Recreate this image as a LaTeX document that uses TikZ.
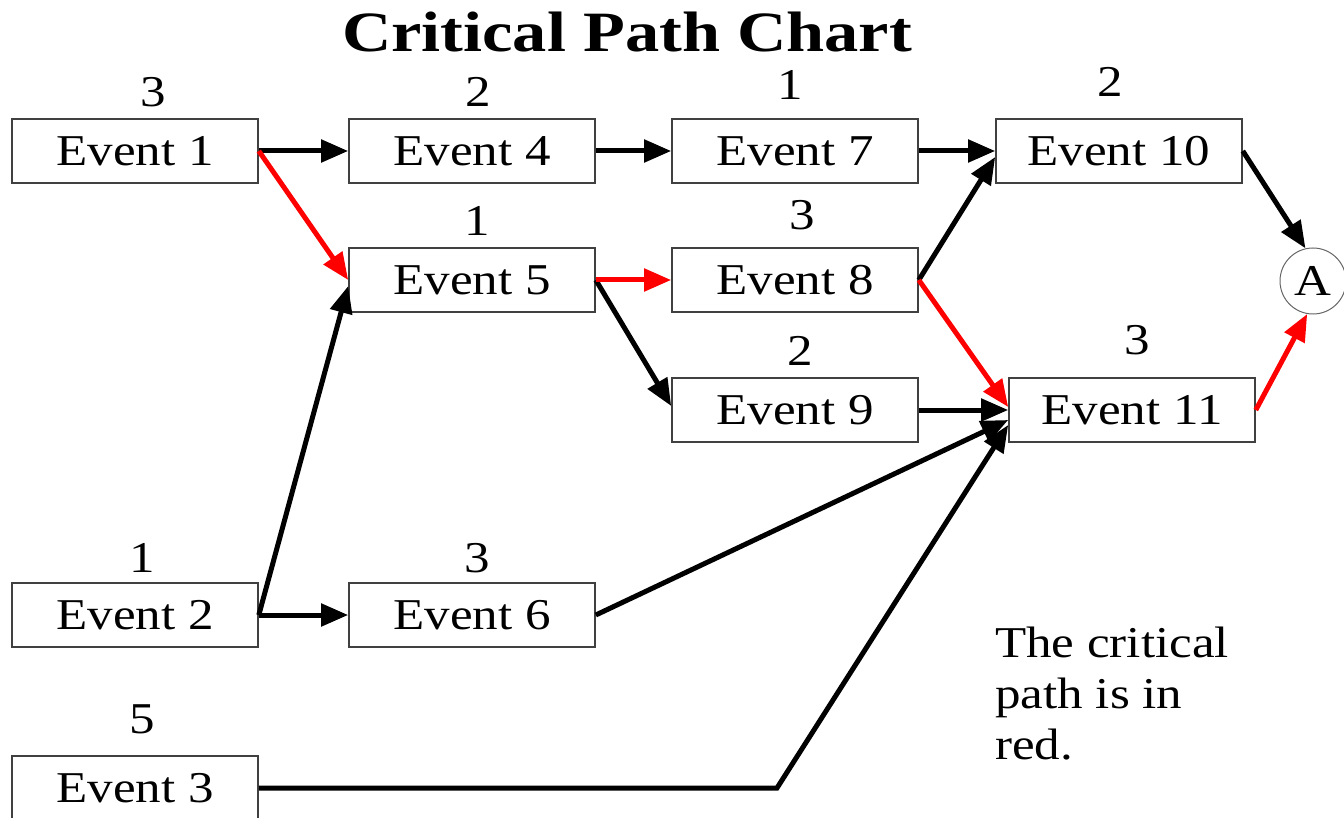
\documentclass[tikz,border=0pt]{standalone}
\usepackage{fontspec}
\setmainfont{Liberation Serif}[FakeStretch=1.16]
\newfontfamily\titlefont{Liberation Serif}[FakeStretch=1.2]
\usetikzlibrary{arrows.meta,calc}

\begin{document}
\begin{tikzpicture}[x=1pt,y=-1pt,
  every node/.style={font=\fontsize{44}{51}\selectfont},
  event/.style={draw=black!75, line width=1.6pt, minimum width=246pt,
                minimum height=64pt, inner sep=0pt, fill=white},
  dur/.style={anchor=base, inner sep=0pt},
  link/.style={line width=5pt, -{Triangle[length=27pt,width=22pt]}},
  crit/.style={link, draw=red, fill=red},
]
\useasboundingbox (0,0) rectangle (1344,818);
\clip (0,0) rectangle (1344,818);

% title
\node[font=\titlefont\bfseries\fontsize{57}{60}\selectfont, anchor=base, inner sep=0pt]
  (title) at (627,52) {Critical Path Chart};

% events
\node[event] (E1)  at (135,151)  {Event 1};
\node[event] (E4)  at (472,151)  {Event 4};
\node[event] (E7)  at (795,151)  {Event 7};
\node[event] (E10) at (1119,151) {Event 10};
\node[event] (E5)  at (472,280)  {Event 5};
\node[event] (E8)  at (795,280)  {Event 8};
\node[event] (E9)  at (795,410)  {Event 9};
\node[event] (E11) at (1132,410) {Event 11};
\node[event] (E2)  at (135,615)  {Event 2};
\node[event] (E6)  at (472,615)  {Event 6};
\node[event] (E3)  at (135,788)  {Event 3};

% durations
\node[dur] (d1)  at (153,107)  {3};
\node[dur] (d4)  at (478,107)  {2};
\node[dur] (d7)  at (790,100)  {1};
\node[dur] (d10) at (1110,97)  {2};
\node[dur] (d5)  at (477,236)  {1};
\node[dur] (d8)  at (802,230)  {3};
\node[dur] (d9)  at (800,365)  {2};
\node[dur] (d11) at (1137,355) {3};
\node[dur] (d2)  at (142,572)  {1};
\node[dur] (d6)  at (477,572)  {3};
\node[dur] (d3)  at (142,733)  {5};

% end node
\node[circle, draw=black!60, line width=1pt, minimum size=66pt, inner sep=0pt]
  (A) at (1313,281) {A};

% note (anchored on the baseline of its last line)
\node[anchor=base west, align=left, inner sep=0pt] (note) at (995,759)
  {The critical\\path is in\\red.};

% connectors
\coordinate (bend) at (777,788);
\draw[link] (E1.east) -- (E4.west);
\draw[link] (E4.east) -- (E7.west);
\draw[link] (E7.east) -- (E10.west);
\draw[link] (E8.east) -- ($(E10.west)+(0,6)$);
\draw[link] (E10.east) -- (A.103);
\draw[link] (E5.east) -- ($(E9.west)+(0,-4)$);
\draw[link] (E9.east) -- (E11.west);
\draw[link] (E2.east) -- ($(E5.west)+(0,6)$);
\draw[link] (E2.east) -- (E6.west);
\draw[link] (E6.east) -- ($(E11.west)+(0,10)$);
\draw[link] (E3.east) -- (bend) -- ($(E11.west)+(0,15)$);
\draw[crit] (E1.east) -- (E5.west);
\draw[crit] (E5.east) -- (E8.west);
\draw[crit] (E8.east) -- ($(E11.west)+(0,-3)$);
\draw[crit] (E11.east) -- (A.-100);
\end{tikzpicture}
\end{document}
